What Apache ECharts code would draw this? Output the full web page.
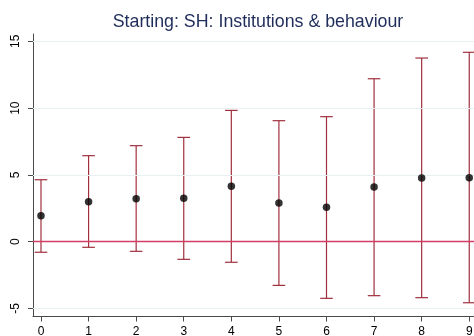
<!DOCTYPE html>
<html>
<head>
<meta charset="utf-8">
<script src="https://cdn.jsdelivr.net/npm/echarts@6/dist/echarts.min.js"></script>
<style>
  html, body { margin: 0; padding: 0; background: #fff; }
  #chart { width: 474px; height: 336px; }
</style>
</head>
<body>
<div id="chart"></div>
<script>
// Coefficient estimates with 95% confidence intervals, by period
const periods = [0, 1, 2, 3, 4, 5, 6, 7, 8, 9];
const estimates = [1.95, 2.99, 3.22, 3.25, 4.15, 2.90, 2.57, 4.09, 4.77, 4.79];
const lowerCI = [-0.79, -0.42, -0.72, -1.32, -1.54, -3.27, -4.24, -4.04, -4.19, -4.57];
const upperCI = [4.64, 6.44, 7.19, 7.81, 9.83, 9.06, 9.36, 12.2, 13.75, 14.18];
const yTicks = [-5, 0, 5, 10, 15];
const xTicks = periods;

const titleText = 'Starting: SH: Institutions & behaviour';
const font = 'Liberation Sans, Arial, Helvetica, sans-serif';
const barColor = '#a0303e';
const zeroColor = '#d23e66';
const axisColor = '#4a4a4a';
const gridColor = '#e8f0f1';

const chart = echarts.init(document.getElementById('chart'), null, { renderer: 'canvas' });

const ciData = periods.map((p, i) => [p, lowerCI[i], upperCI[i]]);

chart.setOption({
  animation: false,
  backgroundColor: '#ffffff',
  title: {
    text: titleText,
    left: 253,
    top: 8,
    textAlign: 'center',
    textStyle: { fontFamily: font, fontSize: 17.8, fontWeight: 'normal', color: '#1f2d5a' }
  },
  grid: { left: 33, right: 0, top: 34, bottom: 19.5, outerBoundsMode: 'none', containLabel: false },
  xAxis: {
    type: 'value',
    min: -0.168,
    max: 9.1,
    axisLine: { show: true, onZero: false, lineStyle: { color: axisColor, width: 1 } },
    axisTick: { show: true, customValues: xTicks, length: 5, lineStyle: { color: axisColor } },
    axisLabel: { customValues: xTicks, margin: 9, fontFamily: font, fontSize: 12, color: '#000' },
    splitLine: { show: false }
  },
  yAxis: {
    type: 'value',
    min: -5.6,
    max: 15.55,
    axisLine: { show: true, onZero: false, lineStyle: { color: axisColor, width: 1 } },
    axisTick: { show: true, customValues: yTicks, length: 5, lineStyle: { color: axisColor } },
    axisLabel: { customValues: yTicks, rotate: 90, margin: 11, fontFamily: font, fontSize: 12, color: '#000' },
    splitLine: { show: false }
  },
  series: [
    {
      // horizontal reference grid lines at the labelled y values
      type: 'line',
      data: [],
      silent: true,
      markLine: {
        silent: true,
        symbol: 'none',
        label: { show: false },
        lineStyle: { color: gridColor, width: 1, type: 'solid' },
        data: yTicks.filter(v => v !== 0).map(v => ({ yAxis: v }))
      }
    },
    {
      // zero reference line
      type: 'line',
      data: [],
      silent: true,
      z: 3,
      markLine: {
        silent: true,
        symbol: 'none',
        label: { show: false },
        lineStyle: { color: zeroColor, width: 1.3, type: 'solid' },
        data: [{ yAxis: 0 }]
      }
    },
    {
      // confidence interval whiskers with caps
      type: 'custom',
      z: 4,
      data: ciData,
      renderItem: function (params, api) {
        const x = api.value(0);
        const lo = api.coord([x, api.value(1)]);
        const hi = api.coord([x, api.value(2)]);
        const half = 6.3;
        const style = { stroke: barColor, lineWidth: 1.2, fill: null };
        return {
          type: 'group',
          children: [
            { type: 'line', shape: { x1: lo[0], y1: lo[1], x2: hi[0], y2: hi[1] }, style: style },
            { type: 'line', shape: { x1: lo[0] - half, y1: lo[1], x2: lo[0] + half, y2: lo[1] }, style: style },
            { type: 'line', shape: { x1: hi[0] - half, y1: hi[1], x2: hi[0] + half, y2: hi[1] }, style: style }
          ]
        };
      }
    },
    {
      // point estimates
      type: 'scatter',
      z: 5,
      symbol: 'circle',
      symbolSize: 7.5,
      itemStyle: { color: '#000' },
      data: periods.map((p, i) => [p, estimates[i]])
    }
  ]
});
</script>
</body>
</html>
